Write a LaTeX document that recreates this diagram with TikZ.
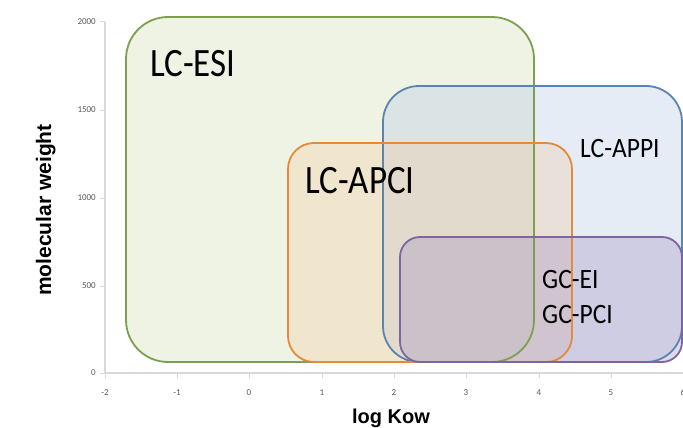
\documentclass[tikz,border=0pt]{standalone}
\usepackage{fontspec}
\usepackage{graphicx}
\setmainfont{Carlito}
\newfontfamily\axfont{Liberation Sans}
\definecolor{esiline}{HTML}{7F9F50}
\definecolor{esifill}{HTML}{EEF3E4}
\definecolor{appiline}{HTML}{5B84B1}
\definecolor{appifill}{HTML}{B9CAE6}
\definecolor{apciline}{HTML}{E38A3C}
\definecolor{apcifill}{HTML}{F5C79A}
\definecolor{gcline}{HTML}{8064A2}
\definecolor{gcfill}{HTML}{9D8CC0}
\definecolor{axisgray}{HTML}{D9D9D9}
\definecolor{ticktext}{HTML}{595959}
\begin{document}
\begin{tikzpicture}[x=1pt,y=-1pt,
  boxline/.style={line width=1.8pt},
  ticklab/.style={font=\fontsize{9}{9}\selectfont, text=ticktext, inner sep=0pt},
  biglab/.style={font=\fontsize{35}{35}\selectfont, anchor=base west, inner sep=0pt},
  midlab/.style={font=\fontsize{25.5}{26}\selectfont, anchor=base west, inner sep=0pt},
  axlab/.style={font=\axfont\bfseries\fontsize{20}{20}\selectfont, inner sep=0pt}]
\useasboundingbox (0,0) rectangle (683,428);
\fill[white] (0,0) rectangle (683,428);
% axes
\draw[axisgray, line width=1.4pt] (105,22) -- (105,373) -- (683,373);
\foreach \y/\l in {373/0,286/500,198/1000,110/1500,22/2000}{
  \draw[axisgray, line width=1pt] (100,\y) -- (105,\y);
  \node[ticklab, anchor=east] (yt\l) at (96,\y) {\l};
}
\foreach \x/\l in {105/-2,177/-1,249/0,322/1,394/2,466/3,539/4,611/5,683/6}{
  \draw[axisgray, line width=1pt] (\x,373) -- (\x,378);
  \node[ticklab, anchor=base] (xt\l) at (\x,395) {\l};
}
% fills
\fill[esifill, rounded corners=42pt] (126,17) rectangle (534,362);
\fill[appifill, fill opacity=0.35, rounded corners=36pt] (383,86) rectangle (682,362);
\fill[apcifill, fill opacity=0.3, rounded corners=26pt] (288,143) rectangle (572,362);
\fill[gcfill, fill opacity=0.32, rounded corners=20pt] (400,237) rectangle (682,362);
% outlines
\draw[esiline, boxline, rounded corners=42pt] (126,17) rectangle (534,362);
\draw[appiline, boxline, rounded corners=36pt] (383,86) rectangle (682,362);
\draw[apciline, boxline, rounded corners=26pt] (288,143) rectangle (572,362);
\draw[gcline, boxline, rounded corners=20pt] (400,237) rectangle (682,362);
% labels
\node[biglab] (esi) at (150,77) {\scalebox{1}[1.15]{LC-ESI}};
\node[biglab] (apci) at (305,193) {\scalebox{1}[1.15]{LC-APCI}};
\node[midlab] (appi) at (580,157) {\scalebox{1}[1.1]{LC-APPI}};
\node[midlab] (gcei) at (542,288) {\scalebox{1}[1.1]{GC-EI}};
\node[midlab] (gcpci) at (542,323) {\scalebox{1}[1.1]{GC-PCI}};
\node[axlab, anchor=base] (xlab) at (391,423) {log Kow};
\node[axlab, anchor=base, rotate=90, font=\axfont\bfseries\fontsize{21}{21}\selectfont] (ylab) at (51,210) {molecular weight};
\end{tikzpicture}
\end{document}
